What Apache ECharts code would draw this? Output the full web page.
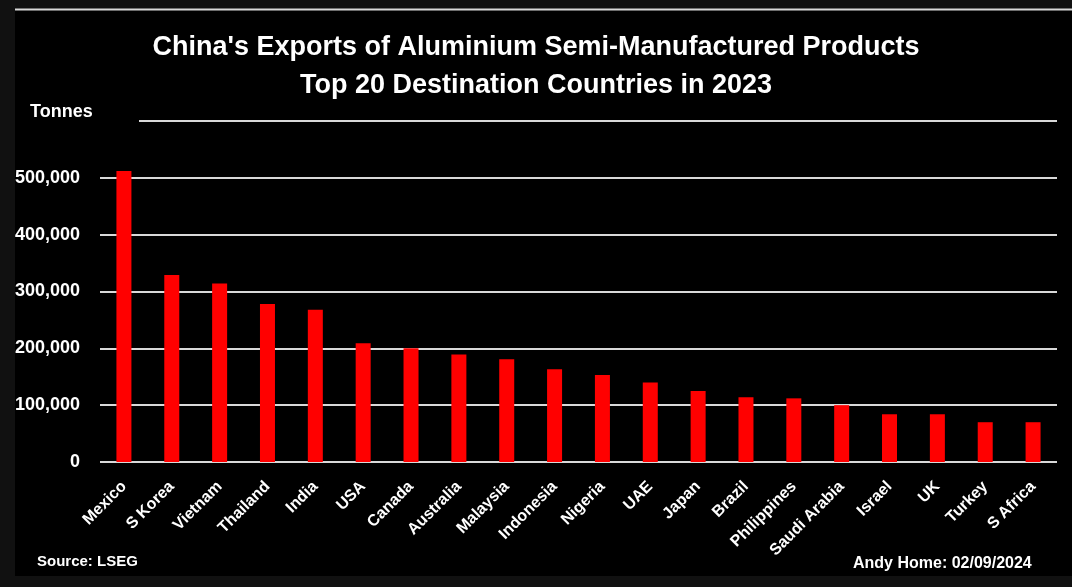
<!DOCTYPE html>
<html>
<head>
<meta charset="utf-8">
<script src="https://cdn.jsdelivr.net/npm/echarts@6/dist/echarts.min.js"></script>
<style>
html,body{margin:0;padding:0;background:#111;}
#chart{width:1072px;height:587px;}
</style>
</head>
<body>
<div id="chart"></div>
<script>
const categories = ["Mexico","S Korea","Vietnam","Thailand","India","USA","Canada","Australia","Malaysia","Indonesia","Nigeria","UAE","Japan","Brazil","Philippines","Saudi Arabia","Israel","UK","Turkey","S Africa"];
const tonnes = [512000,329000,314000,278000,268000,209000,200000,189000,181000,163000,153000,140000,125000,114000,112000,100000,84000,84000,70000,70000];
const titleLines = ["China's Exports of Aluminium Semi-Manufactured Products","Top 20 Destination Countries in 2023"];
const yName = "Tonnes";
const sourceText = "Source: LSEG";
const authorText = "Andy Home: 02/09/2024";

const chart = echarts.init(document.getElementById('chart'), null, {renderer:'canvas'});
const sans = "'Liberation Sans',Arial,sans-serif";
chart.setOption({
  backgroundColor: '#111111',
  animation: false,
  graphic: [
    {type:'rect', z:-10, shape:{x:15,y:9,width:1057,height:567}, style:{fill:'#000'}},
    {type:'line', z:-9, shape:{x1:15,y1:9.5,x2:1072,y2:9.5}, style:{stroke:'#d9d9d9',lineWidth:2}},
    {type:'rect', z:10, shape:{x:98,y:118,width:41,height:6}, style:{fill:'#000'}},
    {type:'text', left:'center', top:29, style:{text:titleLines.join('\n'), fill:'#fff', font:"bold 27px "+sans, textAlign:'center', lineHeight:38}},
    {type:'text', left:30, top:103, style:{text:yName, fill:'#fff', font:"bold 18px "+sans}},
    {type:'text', left:37, top:554, style:{text:sourceText, fill:'#fff', font:"bold 15px "+sans}},
    {type:'text', left:853, top:556, style:{text:authorText, fill:'#fff', font:"bold 16px "+sans}}
  ],
  grid: {left:100, right:15, top:121, bottom:125, containLabel:false},
  xAxis: {
    type:'category', data:categories,
    axisLine:{show:false}, axisTick:{show:false},
    axisLabel:{color:'#fff', fontWeight:'bold', fontSize:16, fontFamily:sans, rotate:45, margin:22, interval:0}
  },
  yAxis: {
    type:'value', min:0, max:600000, interval:100000,
    axisLine:{show:false}, axisTick:{show:false},
    splitLine:{lineStyle:{color:'#d9d9d9', width:2}},
    axisLabel:{color:'#fff', fontWeight:'bold', fontSize:18, fontFamily:sans, margin:20,
      formatter: v => v >= 600000 ? '' : v.toLocaleString('en-US')}
  },
  series: [{
    type:'bar', data:tonnes, barWidth:15,
    itemStyle:{color:'#ff0000'}
  }]
});
</script>
</body>
</html>
